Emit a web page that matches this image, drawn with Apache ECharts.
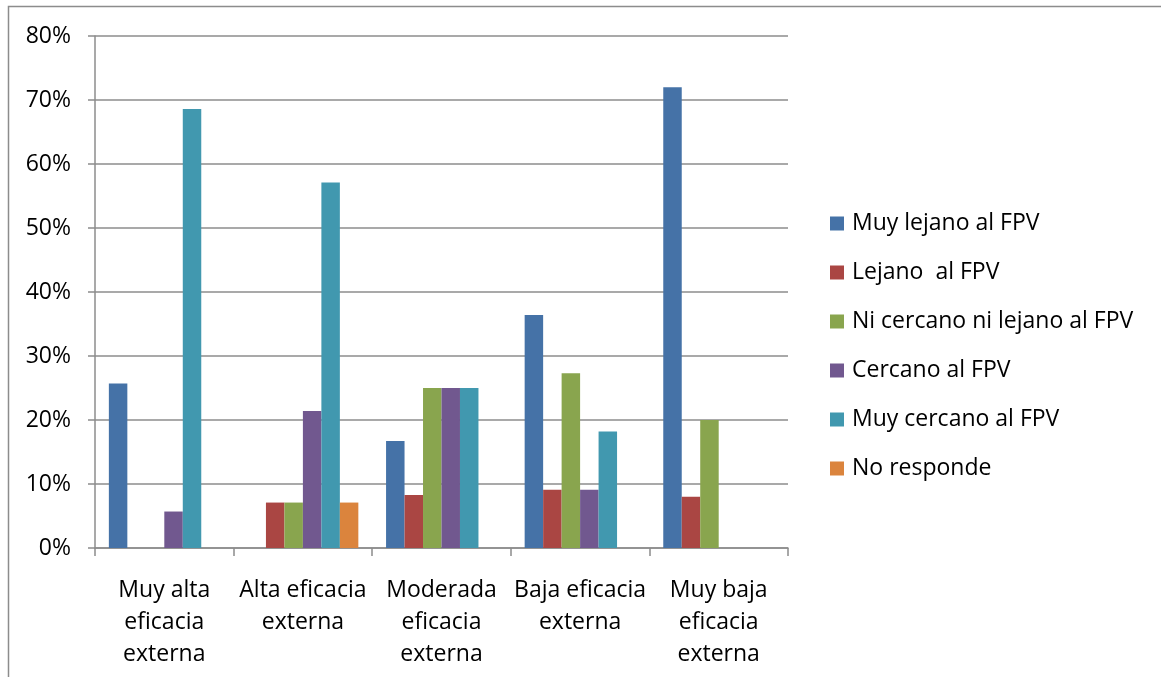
<!DOCTYPE html>
<html>
<head>
<meta charset="utf-8">
<script src="https://cdn.jsdelivr.net/npm/echarts@6/dist/echarts.min.js"></script>
<style>
  html, body { margin: 0; padding: 0; background: #fff; }
  #chart { width: 1161px; height: 677px; }
</style>
</head>
<body>
<div id="chart"></div>
<script>
// Categories (x axis) and per-group percentages
const categories = [
  'Muy alta\neficacia\nexterna',
  'Alta eficacia\nexterna',
  'Moderada\neficacia\nexterna',
  'Baja eficacia\nexterna',
  'Muy baja\neficacia\nexterna'
];
const seriesNames = [
  'Muy lejano al FPV',
  'Lejano  al FPV',
  'Ni cercano ni lejano al FPV',
  'Cercano al FPV',
  'Muy cercano al FPV',
  'No responde'
];
const muyLejano   = [25.7, 0,    16.7, 36.4, 72.0];
const lejano      = [0,    7.1,  8.3,  9.1,  8.0];
const niCercano   = [0,    7.1,  25.0, 27.3, 20.0];
const cercano     = [5.7,  21.4, 25.0, 9.1,  0];
const muyCercano  = [68.6, 57.1, 25.0, 18.2, 0];
const noResponde  = [0,    7.1,  0,    0,    0];
const yTicks = [0, 10, 20, 30, 40, 50, 60, 70, 80];

const colors = ['#4572A7', '#AA4643', '#89A54E', '#71588F', '#4198AF', '#DB843D'];
const values = [muyLejano, lejano, niCercano, cercano, muyCercano, noResponde];

const font = 'Open Sans, Noto Sans, sans-serif';

const chart = echarts.init(document.getElementById('chart'), null, { renderer: 'canvas' });
chart.setOption({
  animation: false,
  color: colors,
  graphic: [{
    type: 'rect',
    shape: { x: 8.5, y: 6.5, width: 1170, height: 700 },
    style: { fill: 'none', stroke: '#8c8c8c', lineWidth: 1.5 },
    silent: true
  }],
  grid: { left: 95, right: 373, top: 36, bottom: 129, containLabel: false },
  legend: {
    orient: 'vertical',
    left: 830,
    top: 212,
    padding: 0,
    itemWidth: 14,
    itemHeight: 14,
    itemGap: 26,
    icon: 'rect',
    textStyle: { fontFamily: font, fontSize: 23, color: '#000', lineHeight: 22, padding: [0, 0, 0, 3] },
    data: seriesNames
  },
  xAxis: {
    type: 'category',
    data: categories,
    axisLine: { show: true, lineStyle: { color: '#8c8c8c', width: 1.5 } },
    axisTick: { show: true, length: 8, lineStyle: { color: '#8c8c8c', width: 1.5 } },
    axisLabel: { fontFamily: font, fontSize: 23, color: '#000', lineHeight: 32, margin: 26, interval: 0 }
  },
  yAxis: {
    type: 'value',
    min: 0,
    max: 80,
    interval: 10,
    axisLine: { show: true, lineStyle: { color: '#8c8c8c', width: 1.5 } },
    axisTick: { show: true, length: 7, lineStyle: { color: '#8c8c8c', width: 1.5 } },
    splitLine: { show: true, lineStyle: { color: '#8c8c8c', width: 1.5 } },
    axisLabel: {
      fontFamily: font, fontSize: 23, color: '#000', margin: 24,
      formatter: v => yTicks.includes(v) ? v + '%' : ''
    }
  },
  series: seriesNames.map((name, i) => ({
    name,
    type: 'bar',
    data: values[i].map(v => (v === 0 ? null : v)),
    barGap: '0%',
    barCategoryGap: '20%',
    itemStyle: { color: colors[i] }
  }))
});
</script>
</body>
</html>
